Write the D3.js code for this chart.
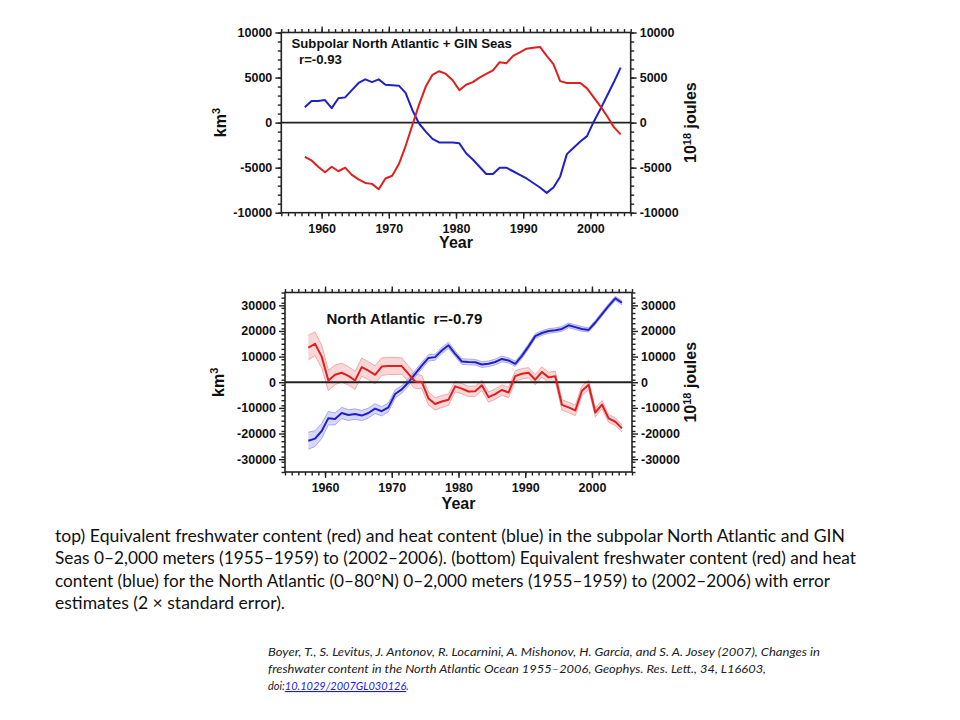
<!DOCTYPE html>
<html><head><meta charset="utf-8">
<script src="https://cdn.jsdelivr.net/npm/d3@7"></script>
<style>body{margin:0;background:#fff}</style></head>
<body><svg id="c" width="960" height="720"></svg>
<script>
// ---------- data ----------
const years = [1957.5,1958.5,1959.5,1960.5,1961.5,1962.5,1963.5,1964.5,1965.5,1966.5,
  1967.5,1968.5,1969.5,1970.5,1971.5,1972.5,1973.5,1974.5,1975.5,1976.5,
  1977.5,1978.5,1979.5,1980.5,1981.5,1982.5,1983.5,1984.5,1985.5,1986.5,
  1987.5,1988.5,1989.5,1990.5,1991.5,1992.5,1993.5,1994.5,1995.5,1996.5,
  1997.5,1998.5,1999.5,2000.5,2001.5,2002.5,2003.5,2004.5];
const xTicks = [1960,1970,1980,1990,2000];

// top: Subpolar North Atlantic + GIN Seas
const topFreshwater = [-3800,-4200,-4900,-5500,-4900,-5400,-5000,-5800,-6300,-6700,
  -6800,-7400,-6200,-5900,-4600,-2600,-300,2000,4000,5300,
  5700,5400,4700,3600,4200,4500,5000,5400,5800,6700,
  6600,7400,7800,8200,8300,8400,7400,6500,4600,4400,
  4400,4400,3800,2800,1800,700,-500,-1300];
const topHeat = [1700,2400,2400,2500,1600,2700,2800,3600,4400,4800,
  4500,4800,4200,4150,4100,3300,1400,-100,-1000,-1800,
  -2200,-2200,-2200,-2300,-3400,-4100,-4900,-5700,-5700,-5000,
  -5000,-5400,-5800,-6200,-6700,-7200,-7800,-7200,-6000,-3500,
  -2800,-2100,-1500,100,1500,3000,4500,6100];
const topYTicks = [-10000,-5000,0,5000,10000];

// bottom: North Atlantic
const bottomFreshwater = [13500,15000,10000,700,2900,3700,2500,700,5900,4500,
  2900,6100,6300,6300,6300,3300,300,100,-6300,-8500,
  -7500,-6800,-1600,-2500,-3600,-3500,-1200,-5800,-4600,-3000,
  -4000,2400,3300,3700,1000,4000,1900,2300,-8800,-9800,
  -11000,-3300,-1000,-11800,-8700,-14100,-15400,-18000];
const bottomFreshwaterErr = [4800,4600,4400,4000,3800,3700,3600,3500,3500,3500,
  3500,3400,3300,3300,3200,3000,2800,2600,2500,2400,
  2300,2200,2100,2000,2000,2000,2000,2000,2000,2000,
  2000,2000,2000,2000,2000,2000,2000,2000,2000,2000,
  2000,1900,1800,1700,1600,1500,1500,1400];
const bottomHeat = [-22800,-22000,-19000,-14000,-14300,-12000,-12800,-12400,-13000,-12000,
  -10300,-11300,-9800,-4600,-2800,0,3300,6500,9500,9800,
  12400,14400,11100,8100,7900,7800,6900,7200,7900,9100,
  8500,7200,10300,14000,18000,19200,20000,20300,20800,22200,
  21500,20800,20400,23300,26600,29800,32700,31000];
const bottomHeatErr = [3300,3100,2900,2600,2300,2200,2100,2000,2000,1900,
  1900,1800,1700,1600,1500,1400,1300,1300,1200,1200,
  1200,1200,1100,1100,1100,1100,1100,1100,1100,1100,
  1000,1000,1000,1000,900,900,900,900,900,900,
  900,900,800,800,800,800,800,800];
const bottomYTicks = [-30000,-20000,-10000,0,10000,20000,30000];

const captionLines = [
  "top) Equivalent freshwater content (red) and heat content (blue) in the subpolar North Atlantic and GIN",
  "Seas 0\u20132,000 meters (1955\u20131959) to (2002\u20132006). (bottom) Equivalent freshwater content (red) and heat",
  "content (blue) for the North Atlantic (0\u201380\u00B0N) 0\u20132,000 meters (1955\u20131959) to (2002\u20132006) with error",
  "estimates (2 \u00D7 standard error)."
];
const citeLines = [
  "Boyer, T., S. Levitus, J. Antonov, R. Locarnini, A. Mishonov, H. Garcia, and S. A. Josey (2007), Changes in",
  "freshwater content in the North Atlantic Ocean 1955\u20132006, Geophys. Res. Lett., 34, L16603,"
];

// ---------- drawing ----------
const RED = "#dd2020", BLUE = "#2020c8";
const svg = d3.select("#c");
const AXFONT = "'Liberation Sans', Arial, sans-serif";

function chart(o) {
  const g = svg.append("g");
  const x = d3.scaleLinear().domain([1954, 2006]).range([o.x0, o.x1]);
  const y = d3.scaleLinear().domain([-o.ymax, o.ymax]).range([o.y1, o.y0]);

  (o.bands || []).forEach(b => {
    const area = d3.area().x((d, i) => x(years[i]))
      .y0((d, i) => y(d - b.err[i])).y1((d, i) => y(d + b.err[i]));
    g.append("path").datum(b.vals).attr("d", area).attr("fill", b.fill);
    [-1, 1].forEach(s => {
      const ln = d3.line().x((d, i) => x(years[i])).y((d, i) => y(d + s * b.err[i]));
      g.append("path").datum(b.vals).attr("d", ln).attr("fill", "none")
        .attr("stroke", b.edge).attr("stroke-width", 0.9);
    });
  });

  g.append("line").attr("x1", o.x0).attr("x2", o.x1).attr("y1", y(0)).attr("y2", y(0))
    .attr("stroke", "#222").attr("stroke-width", 1.8);

  o.series.forEach(s => {
    const ln = d3.line().x((d, i) => x(years[i])).y(d => y(d));
    g.append("path").datum(s.vals).attr("d", ln).attr("fill", "none")
      .attr("stroke", s.color).attr("stroke-width", 2).attr("stroke-linejoin", "round");
  });

  g.append("rect").attr("x", o.x0).attr("y", o.y0).attr("width", o.x1 - o.x0)
    .attr("height", o.y1 - o.y0).attr("fill", "none").attr("stroke", "#222").attr("stroke-width", 1.6);

  const minorX = d3.range(1954, 2007, 1);
  const minorY = d3.range(-o.ymax, o.ymax + 1, o.minorStep);
  function ax(axisFn, scale, pos, tr, major, minor, labels) {
    const ga = g.append("g").attr("transform", tr);
    ga.call(axisFn(scale).tickValues(minor).tickSize(3.5).tickFormat(""));
    const gm = g.append("g").attr("transform", tr);
    const a = axisFn(scale).tickValues(major).tickSize(6);
    if (labels) a.tickFormat(d => String(d)).tickPadding(pos === "b" ? 5 : 3); else a.tickFormat("");
    gm.call(a);
    [ga, gm].forEach(s => {
      s.select(".domain").remove();
      s.selectAll("line").attr("stroke", "#222").attr("stroke-width", 1.4);
      s.selectAll("text").attr("font-family", AXFONT).attr("font-weight", "bold")
        .attr("font-size", 12.5).attr("fill", "#111");
    });
  }
  ax(d3.axisBottom, x, "b", `translate(0,${o.y1})`, xTicks, minorX, true);
  ax(d3.axisTop, x, "t", `translate(0,${o.y0})`, xTicks, minorX, false);
  ax(d3.axisLeft, y, "l", `translate(${o.x0},0)`, o.yTicks, minorY, true);
  ax(d3.axisRight, y, "r", `translate(${o.x1},0)`, o.yTicks, minorY, true);

  g.append("text").attr("x", (o.x0 + o.x1) / 2).attr("y", o.yearY).attr("text-anchor", "middle")
    .attr("font-family", AXFONT).attr("font-weight", "bold").attr("font-size", 16).attr("fill", "#111")
    .text("Year");

  const cy = (o.y0 + o.y1) / 2;
  const km = g.append("text").attr("transform", `translate(${o.kmX},${cy}) rotate(-90)`)
    .attr("text-anchor", "middle").attr("font-family", AXFONT).attr("font-weight", "bold")
    .attr("font-size", 16).attr("fill", "#111");
  km.append("tspan").text("km");
  km.append("tspan").attr("font-size", 11).attr("dy", -6).text("3");

  const jo = g.append("text").attr("transform", `translate(${o.jX},${cy}) rotate(-90)`)
    .attr("text-anchor", "middle").attr("font-family", AXFONT).attr("font-weight", "bold")
    .attr("font-size", 16).attr("fill", "#111");
  jo.append("tspan").text("10");
  jo.append("tspan").attr("font-size", 11).attr("dy", -5).text("18");
  jo.append("tspan").attr("dy", 5).text(" joules");

  o.titles.forEach(t => {
    g.append("text").attr("x", t.x).attr("y", t.y).attr("font-family", AXFONT)
      .attr("font-weight", "bold").attr("font-size", t.size).attr("fill", "#111")
      .attr("xml:space", "preserve").text(t.text);
  });
}

chart({
  x0: 281.3, x1: 630.7, y0: 32.5, y1: 212.7, ymax: 10000, minorStep: 1000,
  yTicks: topYTicks, yearY: 248, kmX: 226, jX: 696,
  series: [{ vals: topHeat, color: BLUE }, { vals: topFreshwater, color: RED }],
  titles: [
    { text: "Subpolar North Atlantic + GIN Seas", x: 291.5, y: 48, size: 13.2 },
    { text: "r=-0.93", x: 299, y: 63.5, size: 13.2 }
  ]
});

chart({
  x0: 285, x1: 632, y0: 292.5, y1: 472, ymax: 35000, minorStep: 2000,
  yTicks: bottomYTicks, yearY: 509, kmX: 224, jX: 696,
  bands: [
    { vals: bottomFreshwater, err: bottomFreshwaterErr, fill: "rgba(242,150,150,0.38)", edge: "#f0a0a0" },
    { vals: bottomHeat, err: bottomHeatErr, fill: "rgba(150,150,240,0.38)", edge: "#a0a0ee" }
  ],
  series: [{ vals: bottomHeat, color: BLUE }, { vals: bottomFreshwater, color: RED }],
  titles: [
    { text: "North Atlantic  r=-0.79", x: 326.5, y: 323.5, size: 15 }
  ]
});

// caption
const capWidths = [790, 801, 775, 230];
captionLines.forEach((t, i) => {
  const tx = svg.append("text").attr("x", 55).attr("y", 542 + i * 22.3)
    .attr("font-family", "Lato, 'Open Sans', sans-serif").attr("font-size", 16.5).attr("fill", "#111")
    .text(t);
  tx.attr("textLength", capWidths[i]).attr("lengthAdjust", "spacingAndGlyphs");
});

// citation
const citeWidths = [552, 498];
citeLines.forEach((t, i) => {
  svg.append("text").attr("x", 268).attr("y", 656 + i * 17)
    .attr("font-family", "Lato, 'Open Sans', sans-serif").attr("font-style", "italic")
    .attr("font-size", 11).attr("fill", "#222")
    .attr("textLength", citeWidths[i]).attr("lengthAdjust", "spacingAndGlyphs").text(t);
});
const c3 = svg.append("text").attr("x", 268).attr("y", 690)
  .attr("font-family", "Lato, 'Open Sans', sans-serif").attr("font-style", "italic")
  .attr("font-size", 11).attr("fill", "#222");
c3.append("tspan").text("doi:");
c3.append("tspan").attr("fill", "#1a1aee").attr("text-decoration", "underline").text("10.1029/2007GL030126");
c3.append("tspan").text(".");
</script>
</body></html>
